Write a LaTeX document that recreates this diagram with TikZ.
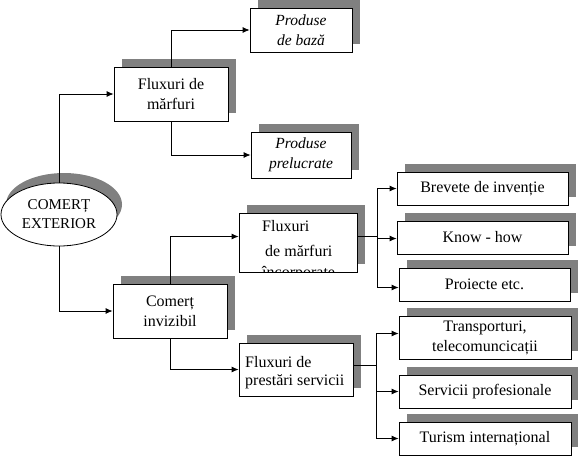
\documentclass[tikz,border=0pt]{standalone}
\usepackage{fontspec}
\setmainfont{Liberation Serif}
\usetikzlibrary{shadows,arrows.meta,calc,shapes.geometric}
\definecolor{shadowgray}{RGB}{128,128,128}
\begin{document}
\begin{tikzpicture}[x=1pt,y=-1pt,
  every node/.style={font=\fontsize{16}{20}\selectfont, inner sep=0pt},
  sh/.style={general shadow={fill=shadowgray, draw=none, shadow xshift=8pt, shadow yshift=8pt}},
  box/.style={draw, line width=0.8pt, fill=white, sh, align=center},
  itbox/.style={box, font=\fontsize{15.5}{19.5}\selectfont\itshape},
  con/.style={line width=0.8pt, -{Latex[length=7pt,width=6pt]}},
  plain/.style={line width=0.8pt},
  txt/.style={anchor=base west}
  ]
\useasboundingbox (0,0) rectangle (578,458);

% root
\node[ellipse, draw, line width=0.8pt, fill=white, minimum width=116pt, minimum height=63pt,
      general shadow={fill=shadowgray, draw=none, shadow xshift=5pt, shadow yshift=10pt},
      align=center, font=\fontsize{15}{19}\selectfont] (ce) at (59,214.5) {COMERȚ\\EXTERIOR};

% level 1
\node[box, minimum width=114pt, minimum height=54pt] (fm) at (171,94) {Fluxuri de\\mărfuri};
\node[box, minimum width=114pt, minimum height=54pt] (ci) at (170,311) {Comerț\\invizibil};

% level 2
\node[itbox, minimum width=102pt, minimum height=44pt] (pb) at (301,30) {Produse\\de bază};
\node[itbox, minimum width=100pt, minimum height=46pt] (pp) at (301,155) {Produse\\prelucrate};
\node[box, minimum width=118pt, minimum height=59pt] (fi) at (298,242.5) {};
\node[txt] (fi1) at (262,231) {Fluxuri};
\node[txt] (fi2) at (265,256) {de mărfuri};
\begin{scope}
  \clip ($(fi.south west)+(1,-1)$) rectangle ($(fi.north east)+(-1,1)$);
  \node[txt] (fi3) at (262,277.5) {încorporate};
\end{scope}
\node[box, minimum width=114pt, minimum height=53pt] (fp) at (296,369.5) {};
\node[txt] (fp1) at (245,367) {Fluxuri de};
\node[txt] (fp2) at (245,385) {prestări servicii};

% level 3
\node[box, minimum width=171pt, minimum height=33pt] (br) at (482.5,188.5) {Brevete de invenție};
\node[box, minimum width=171pt, minimum height=33pt] (kh) at (482.5,237.5) {Know - how};
\node[box, minimum width=171pt, minimum height=33pt] (pr) at (484.5,284.5) {Proiecte etc.};
\node[box, minimum width=172pt, minimum height=43pt] (tr) at (485,337.5) {Transporturi,\\telecomuncicații};
\node[box, minimum width=172pt, minimum height=33pt] (sp) at (485,391.5) {Servicii profesionale};
\node[box, minimum width=172pt, minimum height=33pt] (ti) at (485,438.5) {Turism internațional};

% connectors
\draw[con] (ce.north) |- (fm.west);
\draw[con] (ce.south) |- (ci.west);
\draw[con] (fm.north) |- (pb.west);
\draw[con] (fm.south) |- (pp.west);
\draw[con] (ci.north) |- ([yshift=6pt]fi.west);
\draw[con] (ci.south) |- (fp.west);

\draw[plain] ([yshift=6pt]fi.east) -- ++(20,0) coordinate (b1);
\draw[con] (b1) |- (br.west);
\draw[con] (b1) |- ([yshift=-1pt]kh.west);
\draw[con] (b1) |- ([yshift=-3pt]pr.west);

\draw[plain] ([yshift=4.5pt]fp.east) -- ++(23,0) coordinate (b2);
\draw[con] (b2) |- ([yshift=4pt]tr.west);
\draw[con] (b2) |- (sp.west);
\draw[con] (b2) |- (ti.west);
\end{tikzpicture}
\end{document}
